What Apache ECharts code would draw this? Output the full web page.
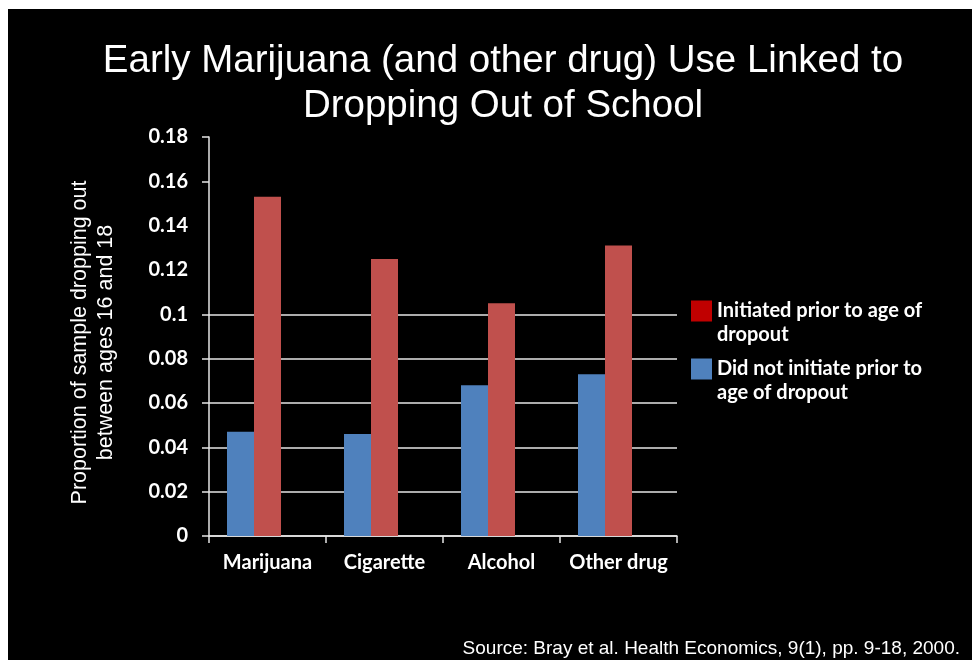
<!DOCTYPE html>
<html>
<head>
<meta charset="utf-8">
<script src="https://cdn.jsdelivr.net/npm/echarts@6/dist/echarts.min.js"></script>
<style>
  html, body { margin: 0; padding: 0; background: #ffffff; }
  #chart { position: absolute; left: 8px; top: 9px; width: 964px; height: 651px; }
</style>
</head>
<body>
<div id="chart"></div>
<script>
// Drug categories along the x axis
const categories = ['Marijuana', 'Cigarette', 'Alcohol', 'Other drug'];

// Proportion of sample dropping out between ages 16 and 18
const notInitiated = [0.047, 0.046, 0.068, 0.073]; // did not initiate prior to age of dropout
const initiated = [0.153, 0.125, 0.105, 0.131];    // initiated prior to age of dropout
const emptySlot = [null, null, null, null];         // third (empty) series slot in each group

// Value axis: ticks and the levels that carry a gridline
const yMin = 0;
const yMax = 0.18;
const yStep = 0.02;
const gridValues = [0, 0.02, 0.04, 0.06, 0.08, 0.1, 0.16, 0.18];

const nameInitiated = 'Initiated prior to age of dropout';
const nameNotInitiated = 'Did not initiate prior to age of dropout';
// Leading blank line keeps the first text line level with the legend square
const legendLines = {};
legendLines[nameInitiated] = '\nInitiated prior to age of\ndropout';
legendLines[nameNotInitiated] = '\nDid not initiate prior to\nage of dropout';

const labelFont = { color: '#ffffff', fontFamily: 'Lato', fontWeight: 'bold', fontSize: 20 };
const lineColor = '#e6e6e6';

// One colour per split line from 0 up to 0.18; levels without a gridline stay clear
const splitColors = [];
for (let v = yMin; v <= yMax + 1e-9; v += yStep) {
  const hasLine = gridValues.some(function (g) { return Math.abs(g - v) < 1e-9; });
  splitColors.push(hasLine ? lineColor : 'rgba(0,0,0,0)');
}

function legendFor(name, color, top) {
  return {
    orient: 'vertical',
    left: 683,
    top: top,
    padding: 0,
    icon: 'rect',
    itemWidth: 21,
    itemHeight: 21,
    selectedMode: false,
    data: [{ name: name, itemStyle: { color: color, borderWidth: 0 } }],
    formatter: function (n) { return legendLines[n]; },
    textStyle: {
      color: '#ffffff', fontFamily: 'Lato', fontWeight: 'bold', fontSize: 20,
      lineHeight: 24
    }
  };
}

const chart = echarts.init(document.getElementById('chart'), null, { renderer: 'canvas' });

chart.setOption({
  backgroundColor: '#000000',
  animation: false,
  title: [{
    text: 'Early Marijuana (and other drug) Use Linked to\nDropping Out of School',
    left: 490,
    top: 25,
    textAlign: 'center',
    textStyle: {
      color: '#ffffff', fontFamily: 'Liberation Sans', fontWeight: 'normal',
      fontSize: 38.5, lineHeight: 45
    }
  }],
  legend: [
    legendFor(nameInitiated, '#c00000', 266),
    legendFor(nameNotInitiated, '#4f81bd', 324)
  ],
  grid: {
    left: 201, right: 295, top: 128, bottom: 124,
    containLabel: false, outerBoundsMode: 'none'
  },
  xAxis: {
    type: 'category',
    data: categories,
    boundaryGap: true,
    axisLine: { show: true, lineStyle: { color: lineColor, width: 1.5 } },
    axisTick: { show: true, length: 7, alignWithLabel: false, lineStyle: { color: lineColor, width: 1.5 } },
    axisLabel: Object.assign({ margin: 17, interval: 0 }, labelFont),
    splitLine: { show: false }
  },
  yAxis: {
    type: 'value',
    min: yMin,
    max: yMax,
    interval: yStep,
    name: 'Proportion of sample dropping out\nbetween ages 16 and 18',
    nameLocation: 'middle',
    nameRotate: 90,
    nameGap: 90,
    nameTextStyle: {
      color: '#ffffff', fontFamily: 'Liberation Sans', fontSize: 21.5, lineHeight: 26,
      padding: [0, 12, 0, 0]
    },
    axisLine: { show: true, lineStyle: { color: lineColor, width: 1.5 } },
    axisTick: { show: true, length: 7, customValues: gridValues, lineStyle: { color: lineColor, width: 1.5 } },
    axisLabel: Object.assign({ margin: 21 }, labelFont),
    splitLine: { show: true, lineStyle: { color: splitColors, width: 1.5 } }
  },
  series: [
    {
      name: nameNotInitiated,
      type: 'bar',
      data: notInitiated,
      barWidth: 27,
      barGap: '0%',
      itemStyle: { color: '#4f81bd' }
    },
    {
      name: nameInitiated,
      type: 'bar',
      data: initiated,
      barWidth: 27,
      barGap: '0%',
      itemStyle: { color: '#c0504d' }
    },
    {
      name: 'empty',
      type: 'bar',
      data: emptySlot,
      barWidth: 27,
      barGap: '0%',
      silent: true
    }
  ],
  graphic: [{
    type: 'text',
    right: 12,
    top: 630,
    style: {
      text: 'Source: Bray et al. Health Economics, 9(1), pp. 9-18, 2000.',
      fill: '#ffffff',
      font: '19px "Liberation Sans"',
      textShadowColor: '#1f3a6e',
      textShadowOffsetX: 2,
      textShadowOffsetY: 2,
      textShadowBlur: 0
    }
  }]
});
</script>
</body>
</html>
